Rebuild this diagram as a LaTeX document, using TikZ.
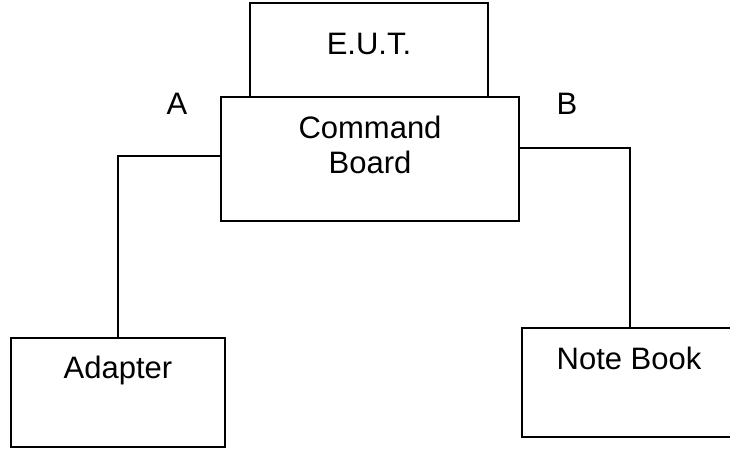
\documentclass[tikz,border=0pt]{standalone}
\usepackage{fontspec}
\setmainfont{Liberation Sans}
\begin{document}
\begin{tikzpicture}[x=1pt,y=1pt,
  boxst/.style={draw,line width=1.3pt,fill=white,inner sep=0pt,outer sep=0pt,anchor=south west},
  txt/.style={anchor=base,inner sep=0pt,font=\fontsize{31}{35}\selectfont},
  wire/.style={line width=1.3pt}]
\useasboundingbox (0,0) rectangle (730,448);
\clip (0,0) rectangle (730,448);
\fill[white] (0,0) rectangle (730,448);
% boxes
\node[boxst,minimum width=238pt,minimum height=94pt] (eut) at (250,351) {};
\node[boxst,minimum width=298pt,minimum height=124pt] (cb) at (221,227) {};
\node[boxst,minimum width=214pt,minimum height=109pt] (ad) at (11,1) {};
\node[boxst,minimum width=216pt,minimum height=109pt] (nb) at (522,11) {};
% texts
\node[txt] (teut) at (369,393) {E.U.T.};
\node[txt] (tcb1) at (370,310) {Command};
\node[txt] (tcb2) at (370,275) {Board};
\node[txt] (tad) at (118,70) {Adapter};
\node[txt] (tnb) at (629,79) {Note Book};
\node[txt] (la) at (177,334) {A};
\node[txt] (lb) at (567,334) {B};
% connectors
\draw[wire] (cb.west |- 0,292) -| (ad.north);
\draw[wire] (cb.east |- 0,300) -| (nb.north);
\end{tikzpicture}
\end{document}
